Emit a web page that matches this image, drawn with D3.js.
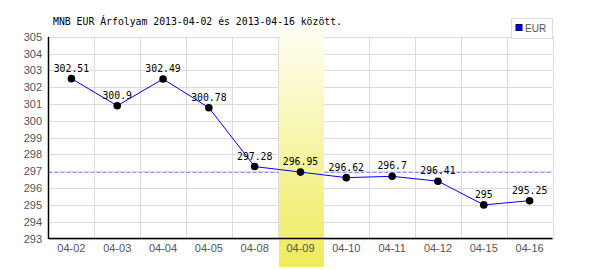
<!DOCTYPE html>
<html>
<head>
<meta charset="utf-8">
<script src="https://cdn.jsdelivr.net/npm/d3@7"></script>
<style>
body { margin: 0; background: #fff; }
svg { display: block; }
</style>
</head>
<body>
<div id="chart"></div>
<script>
// chart data
var days = ["04-02", "04-03", "04-04", "04-05", "04-08", "04-09", "04-10", "04-11", "04-12", "04-15", "04-16"];
var eurValues = [302.51, 300.9, 302.49, 300.78, 297.28, 296.95, 296.62, 296.7, 296.41, 295, 295.25];
var yTicks = [293, 294, 295, 296, 297, 298, 299, 300, 301, 302, 303, 304, 305];
var refLine = 297;
var highlightDay = "04-09";
var titleText = "MNB EUR Árfolyam 2013-04-02 és 2013-04-16 között.";
var seriesName = "EUR";

var w = 600, h = 270;
var plotLeft = 48.5, plotRight = 552.5, plotTop = 36.8, plotBottom = 238.5;
var mono = "'DejaVu Sans Mono', monospace";
var sans = "'Liberation Sans', Arial, sans-serif";

var svg = d3.select("#chart")
	.append("svg")
	.attr("width", w)
	.attr("height", h);

var xScale = d3.scaleBand()
	.domain(days)
	.range([plotLeft, plotRight]);

var yScale = d3.scaleLinear()
	.domain([293, 305])
	.range([plotBottom, plotTop]);

var defs = svg.append("defs");
var grad = defs.append("linearGradient")
	.attr("id", "hl")
	.attr("x1", 0).attr("x2", 0).attr("y1", 0).attr("y2", 1);
grad.append("stop").attr("offset", "0%").attr("stop-color", "#fffff4");
grad.append("stop").attr("offset", "100%").attr("stop-color", "#efeb5c");

// title
svg.append("text")
	.attr("x", 53)
	.attr("y", 25)
	.attr("font-family", mono)
	.attr("font-size", "9.8px")
	.attr("fill", "#000")
	.text(titleText);

// grid
svg.selectAll("line.hgrid")
	.data(yTicks)
	.enter()
	.append("line")
	.attr("class", "hgrid")
	.attr("x1", plotLeft)
	.attr("x2", plotRight)
	.attr("y1", d => Math.round(yScale(d)) + 0.5)
	.attr("y2", d => Math.round(yScale(d)) + 0.5)
	.attr("stroke", "#dcdcdc")
	.attr("stroke-width", 1);

var vLines = days.map(d => xScale(d) + xScale.bandwidth());

svg.selectAll("line.vgrid")
	.data(vLines)
	.enter()
	.append("line")
	.attr("class", "vgrid")
	.attr("x1", d => Math.round(d) + 0.5)
	.attr("x2", d => Math.round(d) + 0.5)
	.attr("y1", plotTop)
	.attr("y2", plotBottom)
	.attr("stroke", "#dcdcdc")
	.attr("stroke-width", 1);

// reference line (sits one pixel under its gridline, like the original)
svg.append("line")
	.attr("x1", plotLeft)
	.attr("x2", plotRight)
	.attr("y1", Math.round(yScale(refLine)) + 1.5)
	.attr("y2", Math.round(yScale(refLine)) + 1.5)
	.attr("stroke", "#8f8fff")
	.attr("stroke-width", 1)
	.attr("stroke-dasharray", "4,2");

// highlighted day
svg.append("rect")
	.attr("x", Math.round(xScale(highlightDay)) + 1)
	.attr("y", 26)
	.attr("width", Math.round(xScale.bandwidth()) - 1)
	.attr("height", 241)
	.attr("fill", "url(#hl)");

// axes
svg.append("line")
	.attr("x1", plotLeft).attr("x2", plotLeft)
	.attr("y1", plotTop).attr("y2", plotBottom + 0.5)
	.attr("stroke", "#000").attr("stroke-width", 1.5);

svg.append("line")
	.attr("x1", plotLeft).attr("x2", plotRight)
	.attr("y1", plotBottom).attr("y2", plotBottom)
	.attr("stroke", "#000").attr("stroke-width", 1.5);

svg.selectAll("text.ylab")
	.data(yTicks)
	.enter()
	.append("text")
	.attr("class", "ylab")
	.attr("x", 42)
	.attr("y", d => yScale(d) + 4)
	.attr("text-anchor", "end")
	.attr("font-family", sans)
	.attr("font-size", "11px")
	.attr("fill", "#555")
	.text(d => d);

svg.selectAll("text.xlab")
	.data(days)
	.enter()
	.append("text")
	.attr("class", "xlab")
	.attr("x", d => xScale(d) + xScale.bandwidth() / 2)
	.attr("y", 252)
	.attr("text-anchor", "middle")
	.attr("font-family", sans)
	.attr("font-size", "11px")
	.attr("fill", "#555")
	.text(d => d);

// series
var line = d3.line()
	.x((d, i) => xScale(days[i]) + xScale.bandwidth() / 2)
	.y(d => yScale(d));

svg.append("path")
	.attr("d", line(eurValues))
	.attr("fill", "none")
	.attr("stroke", "#0000ff")
	.attr("stroke-width", 1);

svg.selectAll("circle.pt")
	.data(eurValues)
	.enter()
	.append("circle")
	.attr("class", "pt")
	.attr("cx", (d, i) => xScale(days[i]) + xScale.bandwidth() / 2)
	.attr("cy", d => yScale(d))
	.attr("r", 3.8)
	.attr("fill", "#000");

svg.selectAll("text.val")
	.data(eurValues)
	.enter()
	.append("text")
	.attr("class", "val")
	.attr("x", (d, i) => xScale(days[i]) + xScale.bandwidth() / 2)
	.attr("y", d => yScale(d) - 7)
	.attr("text-anchor", "middle")
	.attr("font-family", mono)
	.attr("font-size", "9.8px")
	.attr("fill", "#000")
	.text(d => d);

// legend
var lg = svg.append("g").attr("transform", "translate(511.5,18.5)");
lg.append("rect")
	.attr("width", 41)
	.attr("height", 20)
	.attr("fill", "#fff")
	.attr("stroke", "#dcdcdc");
lg.append("rect")
	.attr("x", 4.5).attr("y", 6)
	.attr("width", 6).attr("height", 6)
	.attr("fill", "#0000ff")
	.attr("stroke", "#000066")
	.attr("stroke-width", 1);
lg.append("text")
	.attr("x", 13.5)
	.attr("y", 13.5)
	.attr("font-family", sans)
	.attr("font-size", "10px")
	.attr("fill", "#555")
	.text(seriesName);
</script>
</body>
</html>
